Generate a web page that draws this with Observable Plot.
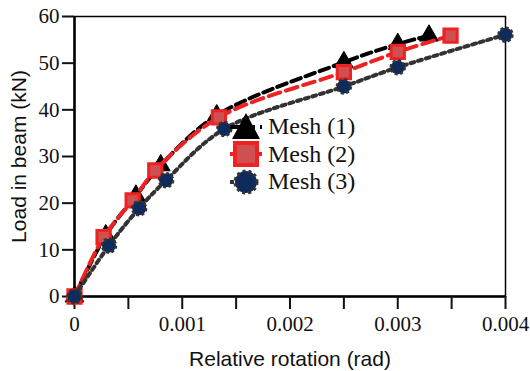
<!DOCTYPE html>
<html><head><meta charset="utf-8">
<script src="https://cdn.jsdelivr.net/npm/d3@7"></script>
<script src="https://cdn.jsdelivr.net/npm/@observablehq/plot@0.6"></script>
<style>
body{margin:0;background:#fff}
#wrap{position:relative;width:530px;height:371px;overflow:hidden}
#legend{position:absolute;left:228px;top:113px;font-family:"Liberation Serif","Times New Roman",serif;font-size:24px;color:#111}
#legend .row{display:flex;align-items:center;height:27.5px}
#legend svg{width:36px;height:30px;margin-right:4px;overflow:visible}
</style></head><body><div id="wrap"></div>
<script>
const seriesNames = ["Mesh (1)", "Mesh (2)", "Mesh (3)"];
const mesh1Rotation = [0, 0.00029, 0.00057, 0.0008, 0.00132, 0.0025, 0.003, 0.00329];
const mesh1Load     = [0, 13.1, 21.6, 28.1, 38.8, 50.2, 54.1, 55.9];
const mesh2Rotation = [0, 0.00027, 0.00054, 0.00075, 0.00134, 0.0025, 0.003, 0.00349];
const mesh2Load     = [0, 12.7, 20.6, 27.0, 38.4, 48.1, 52.4, 55.9];
const mesh3Rotation = [0, 0.00032, 0.0006, 0.00085, 0.00139, 0.0025, 0.003, 0.004];
const mesh3Load     = [0, 10.9, 18.9, 24.9, 35.9, 45.0, 49.1, 56.1];
const xTicks = [0, 0.0005, 0.001, 0.0015, 0.002, 0.0025, 0.003, 0.0035, 0.004];
const yTicks = [0, 10, 20, 30, 40, 50, 60];
const xTitle = "Relative rotation (rad)";
const yTitle = "Load in beam (kN)";

const toRows = (xs, ys) => xs.map((x, i) => ({x, y: ys[i]}));
const datasets = [toRows(mesh1Rotation, mesh1Load), toRows(mesh2Rotation, mesh2Load), toRows(mesh3Rotation, mesh3Load)];

const styles = [
  {line: {stroke: "#000", strokeWidth: 4, strokeDasharray: "10,5"}, dot: {symbol: "triangle", r: 7, fill: "#000", stroke: "#000", strokeWidth: 1}},
  {line: {stroke: "#ee2222", strokeWidth: 4, strokeDasharray: "12,6"}, dot: {symbol: "square", r: 7.5, fill: "#cf5050", stroke: "#ee2222", strokeWidth: 3}},
  {line: {stroke: "#333", strokeWidth: 4, strokeDasharray: "4,4"}, dot: {symbol: "circle", r: 7, fill: "#0f2b5b", stroke: "#333", strokeWidth: 2.5, strokeDasharray: "3,2.5"}}
];
const serif = "'Liberation Serif','Times New Roman',serif";
const sans = "'Liberation Sans',Arial,sans-serif";

const marks = [
  Plot.frame({stroke: "#000", strokeWidth: 1.5}),
  Plot.ruleX([0], {stroke: "#000", strokeWidth: 2.5}),
  Plot.ruleY([0], {stroke: "#000", strokeWidth: 2.5}),
  Plot.axisX({ticks: xTicks, tickSize: 13, tickPadding: 7, strokeWidth: 2,
    fontFamily: serif, fontSize: 21, fill: "#111",
    tickFormat: d => (Math.round(d * 10000) % 10 === 0 ? (d === 0 ? "0" : d.toFixed(3)) : ""),
    label: null}),
  Plot.axisY({ticks: yTicks, tickSize: 12, tickPadding: 3, strokeWidth: 2,
    fontFamily: serif, fontSize: 21, fill: "#111", label: null}),
  Plot.text([xTitle], {frameAnchor: "bottom", textAnchor: "middle", dy: 69, fontFamily: sans, fontSize: 21, fill: "#111"}),
  Plot.text([yTitle], {frameAnchor: "left", textAnchor: "middle", lineAnchor: "middle", rotate: -90, dx: -55, fontFamily: sans, fontSize: 21, fill: "#111"})
];
datasets.forEach((d, i) => {
  marks.push(Plot.line(d, {x: "x", y: "y", curve: "catmull-rom", ...styles[i].line}));
  marks.push(Plot.dot(d, {x: "x", y: "y", ...styles[i].dot}));
});

const chart = Plot.plot({
  width: 530, height: 371,
  marginLeft: 74, marginRight: 25, marginTop: 16, marginBottom: 75,
  style: {background: "#fff", color: "#111", overflow: "visible"},
  x: {domain: [0, 0.004]},
  y: {domain: [0, 60]},
  marks
});
const wrap = document.getElementById("wrap");
wrap.appendChild(chart);

const legend = document.createElement("div");
legend.id = "legend";
const sym = [
  `<line x1="2" y1="15" x2="34" y2="15" stroke="#000" stroke-width="4" stroke-dasharray="10,5"/><path d="M18,1 L32,27 L4,27 Z" fill="#000"/>`,
  `<line x1="2" y1="15" x2="34" y2="15" stroke="#ee2222" stroke-width="4"/><rect x="7" y="4" width="22" height="22" fill="#cf5050" stroke="#ee2222" stroke-width="4"/>`,
  `<line x1="2" y1="15" x2="34" y2="15" stroke="#333" stroke-width="4" stroke-dasharray="4,4"/><circle cx="18" cy="15" r="11" fill="#0f2b5b" stroke="#333" stroke-width="3" stroke-dasharray="3,3"/>`
];
seriesNames.forEach((name, i) => {
  const row = document.createElement("div");
  row.className = "row";
  row.innerHTML = `<svg viewBox="0 0 36 30">${sym[i]}</svg><span>${name}</span>`;
  legend.appendChild(row);
});
wrap.appendChild(legend);
</script></body></html>
